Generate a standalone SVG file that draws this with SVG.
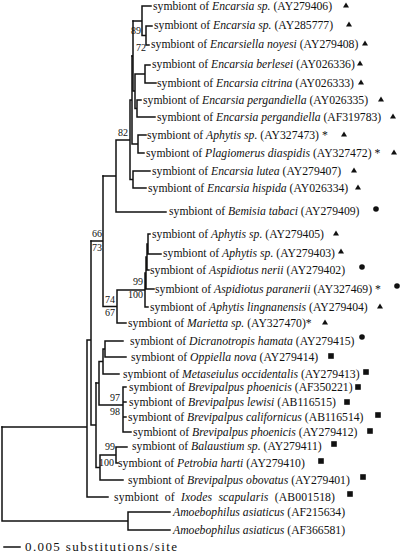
<svg xmlns="http://www.w3.org/2000/svg" xmlns:xlink="http://www.w3.org/1999/xlink" width="400" height="553" viewBox="0 0 400 553">
<style>
.br{fill:none;stroke:#111;stroke-width:1.5;stroke-linecap:square}
.lb{font-family:"Liberation Serif","Times New Roman",serif;font-size:11.7px;fill:#111;white-space:pre}
.bs{font-family:"Liberation Serif","Times New Roman",serif;font-size:10px;fill:#111;text-anchor:end}
.i{font-style:italic}
.mk{fill:#111}
</style>
<defs>
<polygon id="tri" points="-3,2.5 3,2.5 0,-2.5"/>
<circle id="dot" r="2.8"/>
<rect id="sq" x="-2.8" y="-2.8" width="5.6" height="5.6"/>
</defs>
<rect width="400" height="553" fill="#fff"/>
<g id="connectors" class="br">
<path d="M142 6H151M146 26H152M146 45H149M146 26V45M142 6V35.5M142 35.5H146M133 21H142"/>
<path d="M145 65H150M145 83H156M145 65V83M135 74H145M137 100H141M137 117H155M137 100V117M135 108.5H137M135 74V108.5M133 91H135M133 21V91M132 56H133"/>
<path d="M138 135H146M138 153H144M138 135V153M132 144H138M132 56V144M130 100H132M133 171H150M133 188H146M133 171V188M130 179.5H133M130 100V179.5M116 140H130M116 212H166M116 140V212M103 176H116"/>
<path d="M148 234H150M148 254H161M148 234V254M147 244H148M147 270H149M147 244V270M146 257H147M146 289H154M146 257V289M145 273H146M145 307H148M145 273V307M117 290H145M117 323H126M117 290V323M103 306.5H117M103 176V306.5M91 241H103"/>
<path d="M105 341H123M105 357H126M105 341V357M103 349H105M103 374H119M103 349V374M99 361.5H103M123 387H126M123 402H126M123 417H126M123 432H131M123 387V432M99 405H123M99 361.5V405M96 383H99"/>
<path d="M116 447H127M116 463H118M116 447V463M100 455H116M100 480H123M100 455V480M96 467.5H100M96 383V467.5M91 425H96M91 241V425M87 340H91M87 497H108M87 340V497M2 427H87"/>
<path d="M128 512H170M128 530H170M128 512V530M2 521H128M2 427V521"/>
<path d="M4 547H20"/>
</g>
<g id="bootstrap">
<text class="bs" x="141" y="34">89</text>
<text class="bs" x="146" y="51">72</text>
<text class="bs" x="128" y="136">82</text>
<text class="bs" x="102" y="237">66</text>
<text class="bs" x="102" y="251">73</text>
<text class="bs" x="143" y="285">99</text>
<text class="bs" x="143" y="298">100</text>
<text class="bs" x="115" y="303">74</text>
<text class="bs" x="115" y="316">67</text>
<text class="bs" x="120" y="401">97</text>
<text class="bs" x="120" y="415">98</text>
<text class="bs" x="115" y="450">99</text>
<text class="bs" x="114" y="466">100</text>
</g>
<g id="t01"><text class="lb" x="153" y="10">symbiont of <tspan class="i">Encarsia sp.</tspan> (AY279406)</text><use href="#tri" class="mk" x="346" y="5"/></g>
<g id="t02"><text class="lb" x="154" y="29">symbiont of <tspan class="i">Encarsia sp.</tspan> (AY285777)</text><use href="#tri" class="mk" x="349" y="24"/></g>
<g id="t03"><text class="lb" x="151" y="48">symbiont of <tspan class="i">Encarsiella noyesi</tspan> (AY279408)</text><use href="#tri" class="mk" x="365" y="43"/></g>
<g id="t04"><text class="lb" x="152" y="68">symbiont of <tspan class="i">Encarsia berlesei</tspan> (AY026336)</text><use href="#tri" class="mk" x="360" y="63"/></g>
<g id="t05"><text class="lb" x="157" y="87">symbiont of <tspan class="i">Encarsia citrina</tspan> (AY026333)</text><use href="#tri" class="mk" x="361" y="82"/></g>
<g id="t06"><text class="lb" x="143" y="104">symbiont of <tspan class="i">Encarsia pergandiella</tspan> (AY026335)</text><use href="#tri" class="mk" x="381" y="99"/></g>
<g id="t07"><text class="lb" x="157" y="121">symbiont of <tspan class="i">Encarsia pergandiella</tspan> (AF319783)</text><use href="#tri" class="mk" x="393" y="116"/></g>
<g id="t08"><text class="lb" x="147" y="139">symbiont of <tspan class="i">Aphytis sp.</tspan> (AY327473) *</text><use href="#tri" class="mk" x="344" y="134"/></g>
<g id="t09"><text class="lb" x="146" y="157">symbiont of <tspan class="i">Plagiomerus diaspidis</tspan> (AY327472) *</text><use href="#tri" class="mk" x="394" y="152"/></g>
<g id="t10"><text class="lb" x="152" y="175">symbiont of <tspan class="i">Encarsia lutea</tspan> (AY279407)</text><use href="#tri" class="mk" x="354" y="170"/></g>
<g id="t11"><text class="lb" x="148" y="192">symbiont of <tspan class="i">Encarsia hispida</tspan> (AY026334)</text><use href="#tri" class="mk" x="358" y="187"/></g>
<g id="t12"><text class="lb" x="169" y="215">symbiont of <tspan class="i">Bemisia tabaci</tspan> (AY279409)</text><use href="#dot" class="mk" x="376" y="209"/></g>
<g id="t13"><text class="lb" x="152" y="238">symbiont of <tspan class="i">Aphytis sp.</tspan> (AY279405)</text><use href="#tri" class="mk" x="336" y="233"/></g>
<g id="t14"><text class="lb" x="163" y="257">symbiont of <tspan class="i">Aphytis sp.</tspan> (AY279403)</text><use href="#tri" class="mk" x="341" y="251"/></g>
<g id="t15"><text class="lb" x="150" y="274">symbiont of <tspan class="i">Aspidiotus nerii</tspan> (AY279402)</text><use href="#dot" class="mk" x="362" y="267"/></g>
<g id="t16"><text class="lb" x="155" y="293">symbiont of <tspan class="i">Aspidiotus paranerii</tspan> (AY327469) *</text><use href="#dot" class="mk" x="397" y="286"/></g>
<g id="t17"><text class="lb" x="150" y="311">symbiont of <tspan class="i">Aphytis lingnanensis</tspan> (AY279404)</text><use href="#tri" class="mk" x="380" y="306"/></g>
<g id="t18"><text class="lb" x="128" y="327">symbiont of <tspan class="i">Marietta sp.</tspan> (AY327470)*</text><use href="#tri" class="mk" x="325" y="322"/></g>
<g id="t19"><text class="lb" x="130" y="345">symbiont of <tspan class="i">Dicranotropis hamata</tspan> (AY279415)</text><use href="#dot" class="mk" x="362" y="337"/></g>
<g id="t20"><text class="lb" x="131" y="361">symbiont of <tspan class="i">Oppiella nova</tspan> (AY279414)</text><use href="#sq" class="mk" x="331" y="356"/></g>
<g id="t21"><text class="lb" x="123" y="378">symbiont of <tspan class="i">Metaseiulus occidentalis</tspan> (AY279413)</text><use href="#sq" class="mk" x="366" y="372"/></g>
<g id="t22"><text class="lb" x="129" y="391">symbiont of <tspan class="i">Brevipalpus phoenicis</tspan> (AF350221)</text><use href="#sq" class="mk" x="358" y="387"/></g>
<g id="t23"><text class="lb" x="129" y="406">symbiont of <tspan class="i">Brevipalpus lewisi</tspan> (AB116515)</text><use href="#sq" class="mk" x="347" y="402"/></g>
<g id="t24"><text class="lb" x="128" y="421">symbiont of <tspan class="i">Brevipalpus californicus</tspan> (AB116514)</text><use href="#sq" class="mk" x="378" y="415"/></g>
<g id="t25"><text class="lb" x="133" y="436">symbiont of <tspan class="i">Brevipalpus phoenicis</tspan> (AY279412)</text><use href="#sq" class="mk" x="370" y="431"/></g>
<g id="t26"><text class="lb" x="132" y="450">symbiont of <tspan class="i">Balaustium sp.</tspan> (AY279411)</text><use href="#sq" class="mk" x="334" y="444"/></g>
<g id="t27"><text class="lb" x="118" y="467">symbiont of <tspan class="i">Petrobia harti</tspan> (AY279410)</text><use href="#sq" class="mk" x="321" y="461"/></g>
<g id="t28"><text class="lb" x="128" y="484">symbiont of <tspan class="i">Brevipalpus obovatus</tspan> (AY279401)</text><use href="#sq" class="mk" x="363" y="477"/></g>
<g id="t29"><text class="lb" x="114" y="501" textLength="221" lengthAdjust="spacing">symbiont  of  <tspan class="i">Ixodes  scapularis</tspan>  (AB001518)</text><use href="#sq" class="mk" x="350" y="494"/></g>
<g id="t30"><text class="lb" x="173" y="516"><tspan class="i">Amoebophilus asiaticus</tspan> (AF215634)</text></g>
<g id="t31"><text class="lb" x="173" y="534"><tspan class="i">Amoebophilus asiaticus</tspan> (AF366581)</text></g>
<g id="scale"><text class="lb" x="25" y="551" style="font-size:13px" textLength="152" lengthAdjust="spacing">0.005 substitutions/site</text></g>
</svg>
